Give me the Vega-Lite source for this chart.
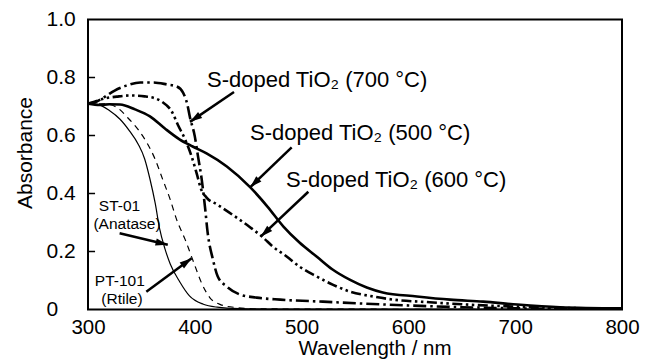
{
  "$schema": "https://vega.github.io/schema/vega-lite/v6.json",
  "width": 534,
  "height": 290,
  "autosize": {"type": "none"},
  "padding": {"left": 88, "top": 19.5, "right": 25, "bottom": 52.5},
  "background": "white",
  "config": {
    "view": {"stroke": "black", "strokeWidth": 2},
    "font": "Liberation Sans"
  },
  "datasets": {
    "curves": [
      {"s": "ST-01", "wl": 300, "abs": 0.71}, {"s": "ST-01", "wl": 311, "abs": 0.705}, {"s": "ST-01", "wl": 320, "abs": 0.686}, {"s": "ST-01", "wl": 330, "abs": 0.656}, {"s": "ST-01", "wl": 339, "abs": 0.615}, {"s": "ST-01", "wl": 347, "abs": 0.57}, {"s": "ST-01", "wl": 353, "abs": 0.52}, {"s": "ST-01", "wl": 358, "abs": 0.45}, {"s": "ST-01", "wl": 363, "abs": 0.365}, {"s": "ST-01", "wl": 367, "abs": 0.28}, {"s": "ST-01", "wl": 372, "abs": 0.21}, {"s": "ST-01", "wl": 377, "abs": 0.157}, {"s": "ST-01", "wl": 386, "abs": 0.095}, {"s": "ST-01", "wl": 395, "abs": 0.047}, {"s": "ST-01", "wl": 408, "abs": 0.018}, {"s": "ST-01", "wl": 421, "abs": 0.008}, {"s": "ST-01", "wl": 442, "abs": 0.003}, {"s": "ST-01", "wl": 480, "abs": 0.001}, {"s": "ST-01", "wl": 800, "abs": 0},
      {"s": "PT-101", "wl": 300, "abs": 0.71}, {"s": "PT-101", "wl": 316, "abs": 0.709}, {"s": "PT-101", "wl": 327, "abs": 0.697}, {"s": "PT-101", "wl": 337, "abs": 0.662}, {"s": "PT-101", "wl": 347, "abs": 0.62}, {"s": "PT-101", "wl": 355, "abs": 0.576}, {"s": "PT-101", "wl": 363, "abs": 0.517}, {"s": "PT-101", "wl": 370, "abs": 0.448}, {"s": "PT-101", "wl": 377, "abs": 0.379}, {"s": "PT-101", "wl": 383, "abs": 0.31}, {"s": "PT-101", "wl": 391, "abs": 0.241}, {"s": "PT-101", "wl": 398, "abs": 0.172}, {"s": "PT-101", "wl": 407, "abs": 0.086}, {"s": "PT-101", "wl": 414, "abs": 0.041}, {"s": "PT-101", "wl": 424, "abs": 0.017}, {"s": "PT-101", "wl": 438, "abs": 0.007}, {"s": "PT-101", "wl": 461, "abs": 0.002}, {"s": "PT-101", "wl": 800, "abs": 0},
      {"s": "500", "wl": 300, "abs": 0.71}, {"s": "500", "wl": 311, "abs": 0.705}, {"s": "500", "wl": 320, "abs": 0.708}, {"s": "500", "wl": 330, "abs": 0.707}, {"s": "500", "wl": 344, "abs": 0.69}, {"s": "500", "wl": 358, "abs": 0.666}, {"s": "500", "wl": 372, "abs": 0.624}, {"s": "500", "wl": 386, "abs": 0.586}, {"s": "500", "wl": 398, "abs": 0.562}, {"s": "500", "wl": 411, "abs": 0.538}, {"s": "500", "wl": 430, "abs": 0.493}, {"s": "500", "wl": 452, "abs": 0.421}, {"s": "500", "wl": 468, "abs": 0.355}, {"s": "500", "wl": 483, "abs": 0.286}, {"s": "500", "wl": 498, "abs": 0.231}, {"s": "500", "wl": 514, "abs": 0.183}, {"s": "500", "wl": 529, "abs": 0.138}, {"s": "500", "wl": 545, "abs": 0.103}, {"s": "500", "wl": 561, "abs": 0.076}, {"s": "500", "wl": 576, "abs": 0.059}, {"s": "500", "wl": 608, "abs": 0.045}, {"s": "500", "wl": 639, "abs": 0.034}, {"s": "500", "wl": 670, "abs": 0.027}, {"s": "500", "wl": 702, "abs": 0.017}, {"s": "500", "wl": 742, "abs": 0.008}, {"s": "500", "wl": 800, "abs": 0.004},
      {"s": "600", "wl": 300, "abs": 0.71}, {"s": "600", "wl": 306, "abs": 0.716}, {"s": "600", "wl": 316, "abs": 0.728}, {"s": "600", "wl": 327, "abs": 0.734}, {"s": "600", "wl": 339, "abs": 0.738}, {"s": "600", "wl": 353, "abs": 0.735}, {"s": "600", "wl": 363, "abs": 0.728}, {"s": "600", "wl": 369, "abs": 0.717}, {"s": "600", "wl": 379, "abs": 0.679}, {"s": "600", "wl": 384, "abs": 0.638}, {"s": "600", "wl": 391, "abs": 0.586}, {"s": "600", "wl": 397, "abs": 0.528}, {"s": "600", "wl": 402, "abs": 0.466}, {"s": "600", "wl": 406, "abs": 0.414}, {"s": "600", "wl": 411, "abs": 0.386}, {"s": "600", "wl": 421, "abs": 0.362}, {"s": "600", "wl": 436, "abs": 0.325}, {"s": "600", "wl": 452, "abs": 0.283}, {"s": "600", "wl": 464, "abs": 0.248}, {"s": "600", "wl": 473, "abs": 0.217}, {"s": "600", "wl": 486, "abs": 0.183}, {"s": "600", "wl": 498, "abs": 0.148}, {"s": "600", "wl": 514, "abs": 0.114}, {"s": "600", "wl": 529, "abs": 0.086}, {"s": "600", "wl": 545, "abs": 0.062}, {"s": "600", "wl": 567, "abs": 0.045}, {"s": "600", "wl": 586, "abs": 0.034}, {"s": "600", "wl": 620, "abs": 0.025}, {"s": "600", "wl": 650, "abs": 0.018}, {"s": "600", "wl": 700, "abs": 0.01}, {"s": "600", "wl": 750, "abs": 0.005}, {"s": "600", "wl": 800, "abs": 0.003},
      {"s": "700", "wl": 300, "abs": 0.71}, {"s": "700", "wl": 306, "abs": 0.714}, {"s": "700", "wl": 316, "abs": 0.734}, {"s": "700", "wl": 325, "abs": 0.755}, {"s": "700", "wl": 336, "abs": 0.772}, {"s": "700", "wl": 349, "abs": 0.783}, {"s": "700", "wl": 361, "abs": 0.783}, {"s": "700", "wl": 374, "abs": 0.776}, {"s": "700", "wl": 383, "abs": 0.769}, {"s": "700", "wl": 389, "abs": 0.748}, {"s": "700", "wl": 393, "abs": 0.707}, {"s": "700", "wl": 395.5, "abs": 0.662}, {"s": "700", "wl": 400, "abs": 0.597}, {"s": "700", "wl": 403, "abs": 0.528}, {"s": "700", "wl": 406.5, "abs": 0.448}, {"s": "700", "wl": 409.5, "abs": 0.355}, {"s": "700", "wl": 412, "abs": 0.266}, {"s": "700", "wl": 417, "abs": 0.172}, {"s": "700", "wl": 421.5, "abs": 0.114}, {"s": "700", "wl": 430, "abs": 0.079}, {"s": "700", "wl": 442, "abs": 0.052}, {"s": "700", "wl": 458, "abs": 0.041}, {"s": "700", "wl": 480, "abs": 0.034}, {"s": "700", "wl": 520, "abs": 0.027}, {"s": "700", "wl": 560, "abs": 0.02}, {"s": "700", "wl": 600, "abs": 0.014}, {"s": "700", "wl": 650, "abs": 0.008}, {"s": "700", "wl": 700, "abs": 0.004}, {"s": "700", "wl": 800, "abs": 0.001}
    ],
    "labels": [
      {"kind": "big", "text": "S-doped TiO₂ (700 °C)", "wl": 411.4, "abs": 0.768},
      {"kind": "big", "text": "S-doped TiO₂ (500 °C)", "wl": 451.7, "abs": 0.583},
      {"kind": "big", "text": "S-doped TiO₂ (600 °C)", "wl": 485.4, "abs": 0.424},
      {"kind": "small", "text": "ST-01", "wl": 329.5, "abs": 0.338},
      {"kind": "small", "text": "(Anatase)", "wl": 336.5, "abs": 0.276},
      {"kind": "small", "text": "PT-101", "wl": 329.8, "abs": 0.08},
      {"kind": "small", "text": "(Rtile)", "wl": 331.8, "abs": 0.019}
    ],
    "arrows": [
      {"id": "700", "wl": 436.7, "abs": 0.75, "wl2": 395.5, "abs2": 0.647},
      {"id": "500", "wl": 490.7, "abs": 0.559, "wl2": 451.7, "abs2": 0.421},
      {"id": "600", "wl": 506.3, "abs": 0.406, "wl2": 461.7, "abs2": 0.251},
      {"id": "ST-01", "wl": 329.6, "abs": 0.263, "wl2": 374.7, "abs2": 0.223},
      {"id": "PT-101", "wl": 354.6, "abs": 0.061, "wl2": 397.1, "abs2": 0.177}
    ],
    "yticks": [
      {"abs": 0.2, "wl": 300, "wl2": 306.6},
      {"abs": 0.4, "wl": 300, "wl2": 306.6},
      {"abs": 0.6, "wl": 300, "wl2": 306.6},
      {"abs": 0.8, "wl": 300, "wl2": 306.6}
    ]
  },
  "layer": [
    {
      "data": {"name": "curves"},
      "transform": [{"filter": "datum.s === 'ST-01'"}],
      "mark": {"type": "line", "color": "black", "strokeWidth": 1.2, "interpolate": "monotone", "clip": true},
      "encoding": {
        "x": {
          "field": "wl", "type": "quantitative",
          "scale": {"domain": [300, 800], "nice": false, "zero": false},
          "axis": {
            "values": [300, 400, 500, 600, 700, 800],
            "ticks": false, "domain": false, "grid": false,
            "labelFontSize": 20.5, "labelColor": "black", "labelPadding": 8,
            "labelFlush": false, "labelOverlap": false, "labelBound": false,
            "title": "Wavelength / nm", "titleFontSize": 20.5, "titleFontWeight": "normal",
            "titleColor": "black", "titleX": 286.5, "titleY": 45,
            "titleBaseline": "alphabetic", "titleAlign": "center"
          }
        },
        "y": {
          "field": "abs", "type": "quantitative",
          "scale": {"domain": [0, 1], "nice": false},
          "axis": {
            "values": [0, 0.2, 0.4, 0.6, 0.8, 1.0],
            "labelExpr": "datum.value == 0 ? '0' : format(datum.value, '.1f')",
            "ticks": false,
            "domain": false, "grid": false,
            "labelAlign": "left", "labelPadding": 42, "labelBaseline": "middle",
            "labelFontSize": 21, "labelColor": "black",
            "labelFlush": false, "labelOverlap": false, "labelBound": false,
            "title": "Absorbance", "titleFontSize": 21, "titleFontWeight": "normal",
            "titleColor": "black", "titleAngle": -90, "titleX": -57, "titleY": 133,
            "titleAlign": "center", "titleBaseline": "alphabetic"
          }
        }
      }
    },
    {
      "data": {"name": "yticks"},
      "mark": {"type": "rule", "color": "black", "strokeWidth": 1.5},
      "encoding": {
        "x": {"field": "wl", "type": "quantitative"}, "x2": {"field": "wl2"},
        "y": {"field": "abs", "type": "quantitative"}
      }
    },
    {
      "data": {"name": "curves"},
      "transform": [{"filter": "datum.s === 'PT-101'"}],
      "mark": {"type": "line", "color": "black", "strokeWidth": 1.2, "strokeDash": [6, 5], "interpolate": "monotone", "clip": true},
      "encoding": {"x": {"field": "wl", "type": "quantitative"}, "y": {"field": "abs", "type": "quantitative"}}
    },
    {
      "data": {"name": "curves"},
      "transform": [{"filter": "datum.s === '500'"}],
      "mark": {"type": "line", "color": "black", "strokeWidth": 2.6, "interpolate": "monotone", "clip": true},
      "encoding": {"x": {"field": "wl", "type": "quantitative"}, "y": {"field": "abs", "type": "quantitative"}}
    },
    {
      "data": {"name": "curves"},
      "transform": [{"filter": "datum.s === '600'"}],
      "mark": {"type": "line", "color": "black", "strokeWidth": 2.6, "strokeDash": [10, 3.5, 2.5, 3.5, 2.5, 3.5], "interpolate": "monotone", "clip": true},
      "encoding": {"x": {"field": "wl", "type": "quantitative"}, "y": {"field": "abs", "type": "quantitative"}}
    },
    {
      "data": {"name": "curves"},
      "transform": [{"filter": "datum.s === '700'"}],
      "mark": {"type": "line", "color": "black", "strokeWidth": 2.6, "strokeDash": [13, 4, 2.5, 4], "interpolate": "monotone", "clip": true},
      "encoding": {"x": {"field": "wl", "type": "quantitative"}, "y": {"field": "abs", "type": "quantitative"}}
    },
    {
      "data": {"name": "arrows"},
      "mark": {"type": "rule", "color": "black", "strokeWidth": 2.5},
      "encoding": {
        "x": {"field": "wl", "type": "quantitative"}, "y": {"field": "abs", "type": "quantitative"},
        "x2": {"field": "wl2"}, "y2": {"field": "abs2"}
      }
    },
    {
      "data": {"name": "arrows"},
      "transform": [{"filter": "datum.id === '700'"}],
      "mark": {"type": "point", "shape": "M0,0L-0.6,2L0.6,2Z", "filled": true, "color": "black", "opacity": 1, "size": 150, "angle": 236, "strokeWidth": 0},
      "encoding": {"x": {"field": "wl2", "type": "quantitative"}, "y": {"field": "abs2", "type": "quantitative"}}
    },
    {
      "data": {"name": "arrows"},
      "transform": [{"filter": "datum.id === '500'"}],
      "mark": {"type": "point", "shape": "M0,0L-0.6,2L0.6,2Z", "filled": true, "color": "black", "opacity": 1, "size": 150, "angle": 226, "strokeWidth": 0},
      "encoding": {"x": {"field": "wl2", "type": "quantitative"}, "y": {"field": "abs2", "type": "quantitative"}}
    },
    {
      "data": {"name": "arrows"},
      "transform": [{"filter": "datum.id === '600'"}],
      "mark": {"type": "point", "shape": "M0,0L-0.6,2L0.6,2Z", "filled": true, "color": "black", "opacity": 1, "size": 150, "angle": 227, "strokeWidth": 0},
      "encoding": {"x": {"field": "wl2", "type": "quantitative"}, "y": {"field": "abs2", "type": "quantitative"}}
    },
    {
      "data": {"name": "arrows"},
      "transform": [{"filter": "datum.id === 'ST-01'"}],
      "mark": {"type": "point", "shape": "M0,0L-0.6,2L0.6,2Z", "filled": true, "color": "black", "opacity": 1, "size": 150, "angle": 103.6, "strokeWidth": 0},
      "encoding": {"x": {"field": "wl2", "type": "quantitative"}, "y": {"field": "abs2", "type": "quantitative"}}
    },
    {
      "data": {"name": "arrows"},
      "transform": [{"filter": "datum.id === 'PT-101'"}],
      "mark": {"type": "point", "shape": "M0,0L-0.6,2L0.6,2Z", "filled": true, "color": "black", "opacity": 1, "size": 150, "angle": 53.6, "strokeWidth": 0},
      "encoding": {"x": {"field": "wl2", "type": "quantitative"}, "y": {"field": "abs2", "type": "quantitative"}}
    },
    {
      "data": {"name": "labels"},
      "transform": [{"filter": "datum.kind === 'big'"}],
      "mark": {"type": "text", "align": "left", "baseline": "alphabetic", "fontSize": 22, "color": "black", "font": "Liberation Sans"},
      "encoding": {"x": {"field": "wl", "type": "quantitative"}, "y": {"field": "abs", "type": "quantitative"}, "text": {"field": "text"}}
    },
    {
      "data": {"name": "labels"},
      "transform": [{"filter": "datum.kind === 'small'"}],
      "mark": {"type": "text", "align": "center", "baseline": "alphabetic", "fontSize": 15.5, "color": "black", "font": "Liberation Sans"},
      "encoding": {"x": {"field": "wl", "type": "quantitative"}, "y": {"field": "abs", "type": "quantitative"}, "text": {"field": "text"}}
    }
  ]
}
